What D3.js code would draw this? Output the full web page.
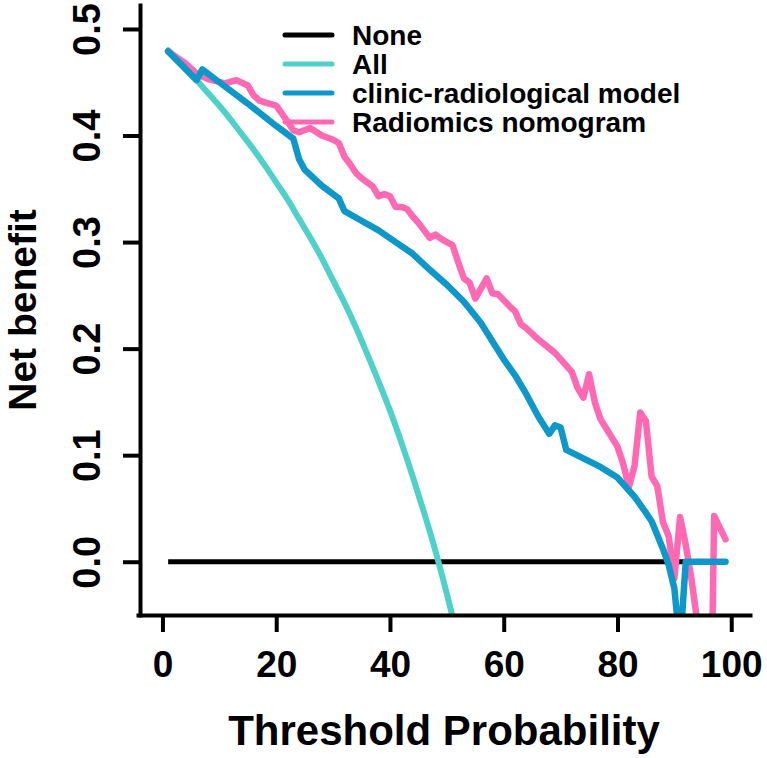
<!DOCTYPE html>
<html>
<head>
<meta charset="utf-8">
<script src="https://cdn.jsdelivr.net/npm/d3@7"></script>
<style>
  html, body { margin: 0; padding: 0; background: #fff; }
  svg { display: block; }
  text { font-family: "Liberation Sans", Arial, Helvetica, sans-serif; font-weight: bold; fill: #000; }
</style>
</head>
<body>
<div id="chart"></div>
<script>
// ---------------- data ----------------
const xTicks = [0, 20, 40, 60, 80, 100];
const yTicks = [0.0, 0.1, 0.2, 0.3, 0.4, 0.5];
const xTitle = "Threshold Probability";
const yTitle = "Net benefit";
const seriesNames = ["None", "All", "clinic-radiological model", "Radiomics nomogram"];
const seriesColors = ["#000000", "#4FD0C8", "#0E97C9", "#FF69B4"];

const noneSeries = [[1, 0], [99, 0]];

const allSeries = [[1, 0.480], [2, 0.4745], [3, 0.469], [4, 0.4635], [5, 0.458], [6, 0.452],
  [7, 0.446], [8, 0.440], [9, 0.434], [10, 0.428], [12, 0.415], [14, 0.401], [16, 0.387],
  [18, 0.372], [20, 0.356], [22, 0.340], [24, 0.322], [26, 0.304], [28, 0.285], [30, 0.264],
  [32, 0.243], [34, 0.220], [36, 0.195], [38, 0.169], [40, 0.142], [42, 0.112], [44, 0.080],
  [46, 0.046], [48, 0.010], [50, -0.030], [52, -0.073]];

const clinicSeries = [[1, 0.479], [6, 0.452], [7, 0.462], [10, 0.450], [15, 0.430], [20, 0.409],
  [23, 0.397], [24, 0.378], [25, 0.368], [28, 0.353], [31, 0.341], [32, 0.329], [35, 0.320],
  [38, 0.311], [41, 0.300], [44, 0.289], [47, 0.274], [50, 0.260], [53, 0.244], [56, 0.224],
  [58, 0.207], [60, 0.190], [62, 0.175], [64, 0.157], [66, 0.137], [68, 0.120], [69, 0.128],
  [70, 0.126], [71, 0.105], [74, 0.097], [77, 0.089], [80, 0.079], [83, 0.061], [85, 0.046],
  [86, 0.038], [87, 0.025], [88, 0.012], [89, -0.003], [90, -0.025], [91, -0.080], [92, 0],
  [99, 0]];

const radiomicsSeries = [[1, 0.479], [4, 0.468], [6, 0.458], [8, 0.453], [11, 0.449], [13, 0.452],
  [15, 0.447], [16, 0.438], [17, 0.433], [18, 0.431], [20, 0.428], [22, 0.413], [23, 0.405],
  [24, 0.403], [26, 0.407], [28, 0.400], [30, 0.396], [31, 0.393], [32, 0.380], [33, 0.373],
  [34, 0.365], [35, 0.360], [36, 0.356], [37, 0.352], [38, 0.343], [39, 0.345], [40, 0.343],
  [41, 0.333], [42, 0.333], [43, 0.331], [44, 0.324], [45, 0.318], [46, 0.311], [47, 0.304],
  [48, 0.307], [49, 0.303], [50, 0.300], [51, 0.297], [52, 0.281], [53, 0.266], [54, 0.262],
  [55, 0.247], [57, 0.266], [58, 0.252], [59, 0.251], [61, 0.240], [62, 0.235], [63, 0.223],
  [64, 0.219], [66, 0.209], [69, 0.196], [71, 0.184], [72, 0.178], [73, 0.163], [74, 0.154],
  [75, 0.176], [76, 0.150], [77, 0.134], [80, 0.108], [81, 0.092], [82, 0.070], [83, 0.090],
  [84, 0.140], [85, 0.132], [86, 0.080], [87, 0.071], [88, 0.037], [89, 0.024], [90, -0.016],
  [91, 0.042], [92, 0.016], [93, -0.016], [94, -0.055], [95, -0.250], [96, -0.300], [97, 0.043],
  [98, 0.032], [99, 0.021]];

// ---------------- layout ----------------
const W = 767, H = 758;
const x = d3.scaleLinear().domain([-4.3, 103.3]).range([138, 750]);
const y = d3.scaleLinear().domain([-0.05, 0.5225]).range([615, 5]);

const svg = d3.select("#chart").append("svg")
  .attr("width", W).attr("height", H);

svg.append("defs").append("clipPath").attr("id", "plotClip")
  .append("rect").attr("x", 140).attr("y", 5).attr("width", 627).attr("height", 610);

const line = d3.line().x(d => x(d[0])).y(d => y(d[1]));
const smoothLine = d3.line().x(d => x(d[0])).y(d => y(d[1])).curve(d3.curveMonotoneX);

const plot = svg.append("g").attr("clip-path", "url(#plotClip)");

plot.append("path").datum(noneSeries).attr("d", line)
  .attr("fill", "none").attr("stroke", seriesColors[0]).attr("stroke-width", 5);
plot.append("path").datum(allSeries).attr("d", smoothLine)
  .attr("fill", "none").attr("stroke", seriesColors[1]).attr("stroke-width", 6)
  .attr("stroke-linejoin", "round").attr("stroke-linecap", "round");
plot.append("path").datum(radiomicsSeries).attr("d", line)
  .attr("fill", "none").attr("stroke", seriesColors[3]).attr("stroke-width", 6.5)
  .attr("stroke-linejoin", "round").attr("stroke-linecap", "round");
plot.append("path").datum(clinicSeries).attr("d", line)
  .attr("fill", "none").attr("stroke", seriesColors[2]).attr("stroke-width", 6.5)
  .attr("stroke-linejoin", "round").attr("stroke-linecap", "round");

// ---------------- axes ----------------
const xAxis = svg.append("g").attr("transform", "translate(0,615)")
  .call(d3.axisBottom(x).tickValues(xTicks).tickSize(17).tickSizeOuter(0).tickFormat(d3.format("d")));
xAxis.select(".domain").attr("stroke", "#000").attr("stroke-width", 4).attr("stroke-linecap", "square");
xAxis.selectAll(".tick line").attr("stroke", "#000").attr("stroke-width", 4);
xAxis.selectAll(".tick text")
  .attr("y", 62).attr("dy", null)
  .style("font-size", "37px").style("font-weight", "bold")
  .style("font-family", "'Liberation Sans', Arial, sans-serif").attr("fill", "#000");

const yAxis = svg.append("g").attr("transform", "translate(140,0)")
  .call(d3.axisLeft(y).tickValues(yTicks).tickSize(17).tickSizeOuter(0).tickFormat(d3.format(".1f")));
yAxis.select(".domain").attr("stroke", "#000").attr("stroke-width", 4).attr("stroke-linecap", "square");
yAxis.selectAll(".tick line").attr("stroke", "#000").attr("stroke-width", 4);
yAxis.selectAll(".tick text")
  .attr("x", null).attr("dy", null)
  .attr("transform", "translate(-40,0) rotate(-90)")
  .attr("text-anchor", "middle")
  .style("font-size", "38px").style("font-weight", "bold")
  .style("font-family", "'Liberation Sans', Arial, sans-serif").attr("fill", "#000");

// titles
svg.append("text").attr("x", 444).attr("y", 745).attr("text-anchor", "middle")
  .style("font-size", "42px").text(xTitle);
svg.append("text").attr("transform", "translate(36,310) rotate(-90)").attr("text-anchor", "middle")
  .style("font-size", "39px").text(yTitle);

// ---------------- legend ----------------
const legendY = [35, 64, 93, 122];
const legend = svg.append("g");
seriesNames.forEach((name, i) => {
  legend.append("line").attr("x1", 285).attr("x2", 332).attr("y1", legendY[i]).attr("y2", legendY[i])
    .attr("stroke", seriesColors[i]).attr("stroke-width", 5).attr("stroke-linecap", "round");
  legend.append("text").attr("x", 352).attr("y", legendY[i] + 10)
    .style("font-size", "28px").text(name);
});
</script>
</body>
</html>
